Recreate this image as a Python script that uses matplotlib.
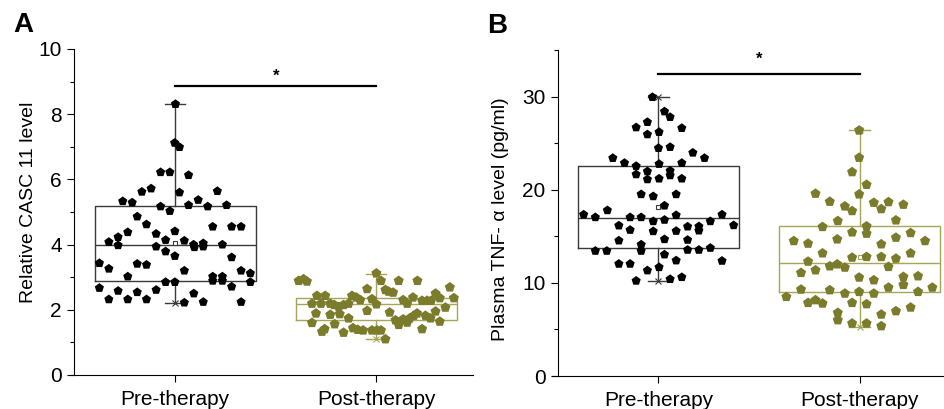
import matplotlib
matplotlib.use("Agg")
import matplotlib.pyplot as plt
from matplotlib.ticker import MultipleLocator

plt.rcParams['font.family'] = ['Liberation Sans', 'DejaVu Sans']

categories = ["Pre-therapy", "Post-therapy"]

# ---------------- Panel A data ----------------
a_pre_y = [8.31, 7.12, 6.99, 6.22, 6.22, 6.13, 5.62, 5.72, 5.60, 5.64, 5.33, 5.29, 5.37,
           5.17, 5.03, 5.21, 5.17, 5.21, 4.86, 4.62, 4.55, 4.55, 4.55, 4.38, 4.33, 4.41,
           4.23, 4.08, 3.98, 4.14, 4.12, 3.94, 4.00, 4.04, 3.92, 3.94, 4.00, 3.79, 3.65,
           3.61, 3.43, 3.26, 3.41, 3.38, 3.20, 3.20, 3.12, 3.02, 3.02, 3.02, 2.89, 2.89,
           2.85, 2.85, 2.85, 2.67, 2.58, 2.54, 2.61, 2.71, 2.32, 2.32, 2.32, 2.50, 2.22,
           2.24, 2.24]
a_pre_dx = [0.002, -0.002, 0.022, -0.072, -0.026, 0.067, -0.165, -0.119, 0.022, 0.210,
            -0.260, -0.213, 0.115, -0.072, -0.026, 0.067, 0.162, 0.256, -0.188, -0.142,
            0.187, 0.281, 0.328, -0.235, -0.094, -0.001, -0.283, -0.329, -0.283, -0.047,
            0.046, -0.094, 0.092, 0.140, 0.096, 0.140, 0.235, -0.047, -0.001, 0.281,
            -0.376, -0.329, -0.188, -0.142, 0.046, 0.328, 0.374, -0.235, 0.187, 0.235,
            0.187, 0.235, -0.047, -0.001, 0.374, -0.376, -0.283, -0.188, -0.094, 0.281,
            -0.329, -0.235, -0.142, 0.093, 0.046, 0.140, 0.328]
a_post_y = [2.89, 2.94, 2.87, 3.12, 2.89, 2.89, 2.89, 2.64, 2.61, 2.56, 2.53, 2.69, 2.50,
            2.43, 2.43, 2.43, 2.38, 2.30, 2.33, 2.30, 2.38, 2.28, 2.28, 2.28, 2.36, 2.36,
            2.19, 2.19, 2.19, 2.15, 2.09, 2.15, 2.19, 2.17, 2.19, 2.07, 1.97, 1.89, 1.85,
            1.87, 1.92, 1.89, 1.82, 1.74, 1.82, 1.74, 1.95, 1.74, 1.68, 1.71, 1.60, 1.56,
            1.54, 1.61, 1.64, 1.41, 1.33, 1.44, 1.39, 1.37, 1.37, 1.37, 1.37, 1.30, 1.41,
            1.10]
a_post_dx = [-0.386, -0.362, -0.345, 0.000, 0.023, 0.111, 0.204, -0.046, 0.045, 0.061,
             0.083, 0.365, 0.294, -0.295, -0.254, -0.121, -0.100, -0.080, -0.022, 0.133,
             0.182, 0.227, 0.252, 0.272, 0.315, 0.385, -0.320, -0.275, -0.229, -0.209,
             -0.187, -0.163, -0.138, 0.000, 0.153, 0.343, -0.046, -0.300, -0.229, -0.182,
             0.066, 0.202, 0.186, 0.166, 0.244, 0.269, 0.294, -0.138, 0.095, 0.133,
             -0.320, -0.207, 0.111, 0.153, 0.315, -0.257, -0.270, -0.116, -0.093, -0.066,
             -0.022, 0.003, 0.023, -0.163, 0.227, 0.045]
# box statistics: whislo, q1, med, q3, whishi, mean
a_stats = [dict(whislo=2.22, q1=2.89, med=3.98, q3=5.18, whishi=8.30, mean=4.04),
           dict(whislo=1.09, q1=1.68, med=2.17, q3=2.36, whishi=3.10, mean=2.20)]

# ---------------- Panel B data ----------------
b_pre_y = [29.94, 28.40, 27.80, 27.26, 26.69, 26.62, 25.94, 26.19, 24.47, 24.58, 23.97,
           23.40, 23.40, 22.87, 22.54, 22.76, 22.87, 21.65, 21.97, 22.04, 21.54, 21.11,
           21.19, 21.19, 19.51, 19.29, 19.51, 18.29, 17.79, 17.33, 17.04, 17.04, 17.04,
           16.76, 16.61, 17.26, 17.33, 16.61, 16.15, 16.18, 16.04, 16.06, 15.61, 15.68,
           15.54, 15.57, 14.54, 14.11, 14.68, 14.61, 13.43, 13.43, 13.43, 13.54, 13.54,
           13.75, 13.04, 12.04, 12.04, 12.40, 12.36, 11.33, 11.68, 10.22, 10.40, 10.61]
b_pre_dx = [-0.030, 0.030, 0.058, -0.055, -0.111, 0.116, -0.055, 0.003, 0.000, 0.058,
            0.171, 0.229, -0.227, -0.169, -0.111, 0.003, 0.116, -0.111, -0.055, 0.058,
            0.058, -0.055, 0.003, 0.116, -0.086, -0.026, 0.088, 0.030, -0.254, -0.372,
            -0.314, -0.141, -0.086, 0.030, -0.026, 0.088, 0.316, 0.258, -0.197, 0.374,
            0.145, 0.201, 0.201, -0.141, -0.026, 0.088, -0.197, -0.086, 0.030, 0.145,
            -0.314, -0.257, -0.086, 0.145, 0.201, 0.258, 0.030, -0.197, -0.141, 0.088,
            0.316, -0.055, 0.003, -0.111, 0.058, 0.116]
b_post_y = [26.37, 23.44, 21.90, 20.54, 19.58, 19.51, 18.72, 18.22, 17.72, 18.61, 17.93,
            18.68, 18.40, 16.65, 16.72, 16.01, 16.08, 15.29, 15.43, 15.36, 14.50, 14.22,
            14.68, 14.86, 14.50, 14.15, 13.18, 13.18, 12.72, 12.79, 12.79, 12.61, 12.29,
            11.79, 12.00, 11.65, 11.72, 11.08, 11.36, 10.58, 10.29, 10.65, 10.72, 9.79,
            9.50, 9.50, 9.29, 9.22, 8.86, 9.04, 8.86, 9.04, 8.50, 7.86, 8.15, 7.79, 7.86,
            7.72, 7.36, 6.97, 6.79, 6.61, 6.00, 5.65, 5.65, 5.36]
b_post_dx = [-0.002, -0.002, -0.037, 0.035, -0.219, -0.002, -0.148, -0.073, -0.037, 0.071,
             0.108, 0.144, 0.218, -0.108, 0.181, -0.184, 0.035, 0.035, -0.037, 0.254,
             -0.327, -0.256, -0.111, 0.181, 0.326, 0.108, -0.184, 0.254, -0.037, 0.035,
             0.108, 0.181, -0.256, -0.148, -0.111, -0.073, 0.144, -0.291, -0.219, -0.002,
             0.071, 0.218, 0.291, 0.218, 0.144, 0.362, -0.291, -0.148, -0.073, -0.002,
             0.071, 0.291, -0.364, -0.256, -0.219, -0.184, -0.037, 0.035, 0.254, 0.181,
             -0.108, 0.108, -0.108, -0.037, 0.035, 0.108]
b_stats = [dict(whislo=10.18, q1=13.79, med=17.00, q3=22.54, whishi=29.94, mean=18.15),
           dict(whislo=5.29, q1=8.97, med=12.18, q3=16.08, whishi=26.43, mean=12.79)]

pre_color = "#000000"
post_color = "#7b7b2c"
pre_box_color = "#3a3a3a"
post_box_color = "#a6a65a"

W, H = 945, 409
fig = plt.figure(figsize=(W / 100, H / 100), dpi=100)


def make_axes(left, right, top, bottom):
    return fig.add_axes([left / W, (H - bottom) / H, (right - left) / W, (bottom - top) / H])


def draw_panel(ax, stats, pre, post, ylim, major, minor, ylabel, sig_y, star_y,
               xlim, label_x, label_y):
    ax.set_xlim(*xlim)
    ax.set_ylim(*ylim)
    positions = [1, 2]
    for st, pos, col in zip(stats, positions, [pre_box_color, post_box_color]):
        ax.bxp([dict(st, fliers=[])], positions=[pos], widths=0.8, capwidths=0.1,
               showmeans=True, showfliers=False, patch_artist=False,
               boxprops=dict(color=col, linewidth=1.0),
               whiskerprops=dict(color=col, linewidth=1.0),
               capprops=dict(color=col, linewidth=1.0),
               medianprops=dict(color=col, linewidth=1.0),
               meanprops=dict(marker='s', markerfacecolor='white', markeredgecolor=col,
                              markersize=3.5, markeredgewidth=0.8),
               zorder=2, manage_ticks=False)
        ax.plot([pos, pos], [st['whislo'], st['whishi']], linestyle='none', marker='x',
                color=col, markersize=4, markeredgewidth=0.8, zorder=2)
    (pre_dx, pre_y), (post_dx, post_y) = pre, post
    ax.scatter([1 + d for d in pre_dx], pre_y, marker='p', s=48, color=pre_color,
               edgecolors='none', zorder=3)
    ax.scatter([2 + d for d in post_dx], post_y, marker='p', s=58, color=post_color,
               edgecolors='none', zorder=3)
    # significance bar
    ax.plot([1, 2], [sig_y, sig_y], color='black', linewidth=1.6, clip_on=False, zorder=4)
    ax.text(1.5, star_y, '*', ha='center', va='center', fontsize=12, fontweight='bold')

    ax.set_xticks(positions)
    ax.set_xticklabels(categories, fontsize=15)
    ax.yaxis.set_major_locator(MultipleLocator(major))
    ax.yaxis.set_minor_locator(MultipleLocator(minor))
    ax.tick_params(axis='y', which='major', direction='out', length=5, width=0.8,
                   labelsize=15, pad=4)
    ax.tick_params(axis='y', which='minor', direction='out', length=3, width=0.8)
    ax.tick_params(axis='x', which='major', direction='out', length=5, width=0.8, pad=6)
    ax.spines['top'].set_visible(False)
    ax.spines['right'].set_visible(False)
    ax.spines['left'].set_position(('data', 0.5))
    ax.spines['left'].set_linewidth(0.8)
    ax.spines['bottom'].set_linewidth(0.8)
    ax.set_ylabel(ylabel, fontsize=14)
    ax.yaxis.set_label_coords(label_x, label_y)


axA = make_axes(70, 473, 49, 375)
draw_panel(axA, a_stats, (a_pre_dx, a_pre_y), (a_post_dx, a_post_y), (0, 10), 2, 1,
           "Relative CASC 11 level", 8.87, 9.15, (0.478, 2.48), -0.083, 0.53)

axB = make_axes(551.7, 944, 50, 376)
draw_panel(axB, b_stats, (b_pre_dx, b_pre_y), (b_post_dx, b_post_y), (0, 35), 10, 5,
           "Plasma TNF- \u03b1 level (pg/ml)", 32.4, 34.0, (0.469, 2.42), -0.11, 0.48)

fig.text(13 / W, 1 - 25 / H, "A", fontsize=20, fontweight='bold', ha='left', va='center')
fig.text(487 / W, 1 - 26 / H, "B", fontsize=20, fontweight='bold', ha='left', va='center')

fig.savefig("out.png", dpi=100)
